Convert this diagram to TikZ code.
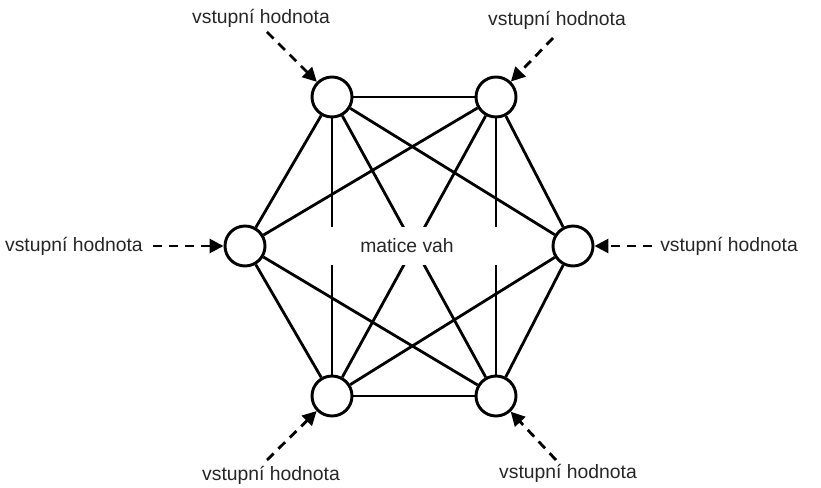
\documentclass[tikz,border=0pt]{standalone}
\usepackage{fontspec}
\setmainfont{Liberation Sans}
\usetikzlibrary{arrows.meta}

\begin{document}
\begin{tikzpicture}[x = 0.75pt, y = -0.75pt,
        neuron/.style = {draw, circle, line width = 2.2pt, minimum size = 30pt, inner sep = 0pt, fill = white},
        weight/.style = {line width = 2.1pt},
        inputarrow/.style = {line width = 2.1pt, dash pattern = on 7pt off 5pt, -{Triangle[length = 10.5pt, width = 10.5pt]}},
        inputtext/.style = {font = \fontsize{14.5}{17}\selectfont, inner sep = 0pt, text = black!85}]
        \useasboundingbox (0,0) rectangle (821,488);
        \node[neuron] (tl) at (332, 97) {};
        \node[neuron] (tr) at (496, 97) {};
        \node[neuron] (l) at (245, 246) {};
        \node[neuron] (r) at (573, 246) {};
        \node[neuron] (bl) at (332, 396) {};
        \node[neuron] (br) at (496, 396) {};
        \foreach \a/\b in {tl/tr, tl/l, tl/r, tl/bl, tl/br, tr/l, tr/r, tr/bl, tr/br, l/bl, l/br, r/bl, r/br, bl/br}
            \draw[weight] (\a) -- (\b);
        \node[fill = white, minimum width = 142.5pt, minimum height = 28.5pt, inputtext] (vah) at (407, 246) {matice vah};
        % vstupy
        \node[inputtext] (intl) at (261, 18) {vstupní hodnota};
        \node[inputtext] (intr) at (557, 20) {vstupní hodnota};
        \node[inputtext, anchor = east] (inl) at (143, 246) {vstupní hodnota};
        \node[inputtext, anchor = west] (inr) at (660, 246) {vstupní hodnota};
        \node[inputtext] (inbl) at (271, 475) {vstupní hodnota};
        \node[inputtext] (inbr) at (568, 473) {vstupní hodnota};
        \coordinate (stl) at (267, 32);
        \coordinate (str) at (553, 38);
        \coordinate (sl) at (153, 246);
        \coordinate (sr) at (652, 246);
        \coordinate (sbl) at (267, 460);
        \coordinate (sbr) at (556, 460);
        \draw[inputarrow] (stl) -- (tl);
        \draw[inputarrow] (str) -- (tr);
        \draw[inputarrow] (sl) -- (l);
        \draw[inputarrow] (sr) -- (r);
        \draw[inputarrow] (sbl) -- (bl);
        \draw[inputarrow] (sbr) -- (br);
    \end{tikzpicture}
\end{document}
